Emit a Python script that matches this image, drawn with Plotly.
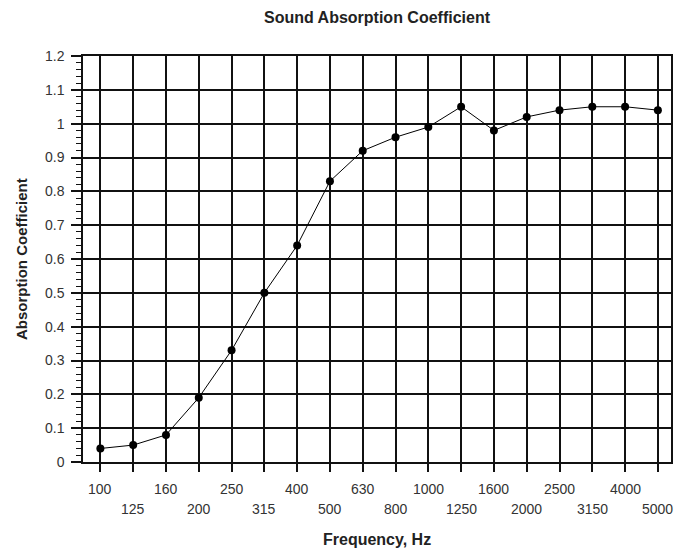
import plotly.graph_objects as go

frequencies = ["100", "125", "160", "200", "250", "315", "400", "500", "630", "800",
               "1000", "1250", "1600", "2000", "2500", "3150", "4000", "5000"]
absorption = [0.04, 0.05, 0.08, 0.19, 0.33, 0.50, 0.64, 0.83, 0.92, 0.96,
              0.99, 1.05, 0.98, 1.02, 1.04, 1.05, 1.05, 1.04]

title_text = "Sound Absorption Coefficient"
x_title = "Frequency, Hz"
y_title = "Absorption Coefficient"

FONT = "Liberation Sans, Arial, sans-serif"
W, H = 674, 541  # page body has an 8px margin

fig = go.Figure()
fig.add_trace(go.Scatter(
    x=frequencies, y=absorption, mode="lines+markers",
    line=dict(color="#000000", width=1),
    marker=dict(color="#000000", size=8),
    cliponaxis=False,
))

annotations = []
for i, f in enumerate(frequencies):
    annotations.append(dict(
        x=i, y=0, xref="x", yref="paper", text=f, showarrow=False,
        yanchor="middle", xanchor="center", yshift=-27 if i % 2 == 0 else -47,
        font=dict(family=FONT, size=14, color="#333333"),
    ))
annotations.append(dict(
    x=0.5, y=0, xref="paper", yref="paper", text="<b>" + x_title + "</b>",
    showarrow=False, yanchor="middle", xanchor="center", yshift=-77,
    font=dict(family=FONT, size=16, color="#222222"),
))
annotations.append(dict(
    x=0, y=0.5, xref="paper", yref="paper", text="<b>" + y_title + "</b>",
    showarrow=False, yanchor="middle", xanchor="center", xshift=-62,
    textangle=-90,
    font=dict(family=FONT, size=15, color="#222222"),
))

fig.update_layout(
    width=W, height=H,
    margin=dict(l=75, r=9, t=48, b=87),
    paper_bgcolor="white", plot_bgcolor="white",
    showlegend=False,
    title=dict(text="<b>" + title_text + "</b>", x=0.5, xref="paper",
               y=1 - 9 / H, yref="container", yanchor="middle", xanchor="center",
               font=dict(family=FONT, size=16, color="#222222")),
    annotations=annotations,
    xaxis=dict(
        type="category", range=[-0.53, 17.4],
        showgrid=True, gridcolor="#111111", gridwidth=1.5,
        showline=True, linecolor="#111111", linewidth=1.5, mirror=True,
        ticks="outside", ticklen=8, tickwidth=1.5, tickcolor="#111111",
        showticklabels=False, zeroline=False,
    ),
    yaxis=dict(
        range=[0, 1.2], dtick=0.1, tick0=0,
        showgrid=True, gridcolor="#111111", gridwidth=1.5,
        showline=True, linecolor="#111111", linewidth=1.5, mirror=True,
        ticks="outside", ticklen=10, tickwidth=1.5, tickcolor="#111111",
        ticklabelstandoff=4,
        tickfont=dict(family=FONT, size=14, color="#333333"),
        zeroline=False,
        minor=dict(dtick=0.02, ticks="outside", ticklen=5, tickwidth=1.2,
                   tickcolor="#111111", showgrid=False),
    ),
)

fig.write_html("out.html")
